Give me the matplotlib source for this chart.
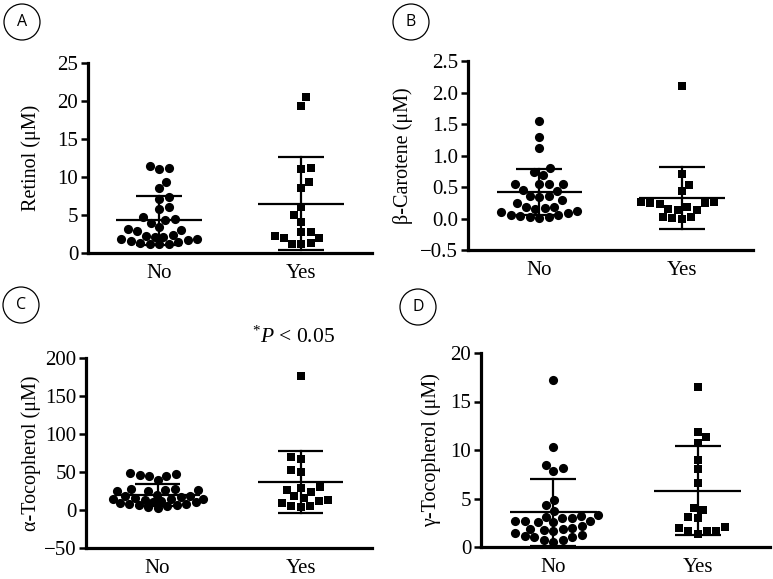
import numpy as np
import matplotlib
matplotlib.use("Agg")
import matplotlib.pyplot as plt
from matplotlib.patches import Ellipse

plt.rcParams['font.family'] = ['Liberation Serif', 'DejaVu Serif']
plt.rcParams['mathtext.fontset'] = 'custom'
plt.rcParams['mathtext.rm'] = 'Liberation Serif'
plt.rcParams['mathtext.it'] = 'Liberation Serif:italic'

# ---------------- data ----------------
groups = ["No", "Yes"]

retinol_no = [11.2, 11.1, 11.5, 9.4, 8.5, 7.4, 7.1, 6.0, 5.8, 4.8, 4.5, 4.4, 4.0,
              3.4, 3.0, 2.9, 3.1, 1.15, 1.2, 1.25, 1.35, 1.4, 1.55, 1.65, 1.8,
              1.9, 2.05, 2.15, 2.3, 2.4]
retinol_yes = [20.5, 19.4, 11.2, 11.0, 9.3, 8.55, 6.0, 4.95, 4.1, 2.7, 2.7, 2.0,
               1.3, 2.0, 2.2, 1.2, 1.2]

carotene_no = [1.54, 1.29, 1.12, 0.80, 0.74, 0.69, 0.55, 0.55, 0.55, 0.55, 0.46,
               0.43, 0.35, 0.35, 0.34, 0.29, 0.25, 0.19, 0.18, 0.17, 0.15, 0.12,
               0.10, 0.08, 0.06, 0.05, 0.04, 0.03, 0.02, 0.01]
carotene_yes = [2.10, 0.70, 0.53, 0.43, 0.26, 0.24, 0.25, 0.23, 0.26, 0.19, 0.15,
                0.14, 0.14, 0.02, 0.00, 0.01, 0.02]

atoc_no = [48, 45, 39, 45, 46, 49, 26, 27, 25, 26, 27, 25, 20, 19, 18, 17, 16, 15,
           14, 13, 12, 11, 10, 9, 8, 8, 7, 6, 5, 4, 3, 15]
atoc_yes = [175.7, 70.3, 66.8, 49.7, 52.7, 30.8, 26.4, 24.2, 29.4, 16.3, 11.9,
            5.7, 4.4, 5.7, 8.8, 13.2, 18.5]

gtoc_no = [17.2, 10.3, 8.5, 8.1, 7.8, 4.8, 4.3, 3.7, 3.3, 3.2, 3.1, 3.0, 3.0, 2.7,
           2.7, 2.7, 2.6, 2.6, 2.2, 2.0, 1.9, 1.9, 1.8, 1.6, 1.4, 1.2, 1.1, 1.0,
           1.0, 0.75, 0.7, 0.5]
gtoc_yes = [16.5, 11.9, 11.3, 10.7, 9.0, 8.0, 6.6, 4.0, 3.8, 3.1, 3.0, 2.1, 2.0,
            1.7, 1.7, 1.6, 1.3]

# mean and SD (No, Yes)
retinol_mean = [4.3, 6.5]
retinol_sd = [3.2, 6.1]
carotene_mean = [0.42, 0.33]
carotene_sd = [0.37, 0.49]
atoc_mean = [19.8, 36.7]
atoc_sd = [14.2, 41.2]
gtoc_mean = [3.6, 5.8]
gtoc_sd = [3.45, 4.6]

ylabels = ["Retinol (\u03bcM)", "\u03b2-Carotene (\u03bcM)",
           "\u03b1-Tocopherol (\u03bcM)", "\u03b3-Tocopherol (\u03bcM)"]
ylims = [(0, 25), (-0.5, 2.5), (-50, 200), (0, 20)]
yticks = [[0, 5, 10, 15, 20, 25],
          [-0.5, 0.0, 0.5, 1.0, 1.5, 2.0, 2.5],
          [-50, 0, 50, 100, 150, 200],
          [0, 5, 10, 15, 20]]
ytick_fmt = ["{:g}", "{:.1f}", "{:g}", "{:g}"]
panel_letters = ["A", "B", "C", "D"]

# ---------------- layout ----------------
W, H = 773, 579
fig = plt.figure(figsize=(W / 100, H / 100), dpi=100)

# left, right, top, bottom in pixels
boxes = [(88, 372, 63, 253), (468, 753, 61, 250), (86, 372, 358, 548), (481, 770, 353, 547)]
circles = [(22, 22), (411, 22), (21, 305), (418, 307)]
ylabel_x = [33, 405, 33, 433]
FS = 15


def swarm_offsets(values, px_per_y, d, maxw):
    """Beeswarm layout (pixels) limited to +-maxw; overlaps allowed when crowded."""
    vals = np.asarray(values, float)
    order = np.argsort(vals, kind="stable")
    ys = vals * px_per_y
    grid = np.arange(-maxw, maxw + 0.01, 0.5)
    px, py = [], []
    offs = np.zeros(len(vals))
    for n, i in enumerate(order):
        y = ys[i]
        if not px:
            x = 0.0
        else:
            PX = np.array(px)[None, :]
            PY = np.array(py)[None, :]
            dist = np.sqrt((grid[:, None] - PX) ** 2 + (y - PY) ** 2).min(axis=1)
            valid = dist >= d
            if valid.any():
                sgn = 1 if n % 2 == 0 else -1
                key = np.abs(grid) - 1e-3 * sgn * grid
                key = np.where(valid, key, np.inf)
                x = grid[np.argmin(key)]
            else:
                x = grid[np.argmax(dist - 1e-3 * np.abs(grid))]
        offs[i] = x
        px.append(x)
        py.append(y)
    return offs


datasets = [(retinol_no, retinol_yes, retinol_mean, retinol_sd),
            (carotene_no, carotene_yes, carotene_mean, carotene_sd),
            (atoc_no, atoc_yes, atoc_mean, atoc_sd),
            (gtoc_no, gtoc_yes, gtoc_mean, gtoc_sd)]

for k, (no, yes, means, sds) in enumerate(datasets):
    l, r, t, b = boxes[k]
    ax = fig.add_axes([l / W, 1 - b / H, (r - l) / W, (b - t) / H])
    xlim = (-0.5, 1.5)
    ax.set_xlim(*xlim)
    ax.set_ylim(*ylims[k])
    px_per_x = (r - l) / (xlim[1] - xlim[0])
    px_per_y = (b - t) / (ylims[k][1] - ylims[k][0])

    for gi, (vals, mk) in enumerate([(no, 'o'), (yes, 's')]):
        offs = swarm_offsets(vals, px_per_y, 9.5, 45.0)
        xs = gi + offs / px_per_x
        ax.plot(xs, vals, linestyle='none', marker=mk, markersize=6.6 if mk == 'o' else 6.3,
                color='black', markeredgewidth=0, clip_on=False, zorder=3)
        m, s = means[gi], sds[gi]
        ax.plot([gi - 0.30, gi + 0.30], [m, m], color='black', lw=1.6, zorder=4,
                solid_capstyle='butt')
        ax.plot([gi, gi], [m - s, m + s], color='black', lw=1.6, zorder=4)
        for yv in (m - s, m + s):
            ax.plot([gi - 0.16, gi + 0.16], [yv, yv], color='black', lw=1.6, zorder=4,
                    solid_capstyle='butt', clip_on=False)

    for sp in ['top', 'right']:
        ax.spines[sp].set_visible(False)
    for sp in ['left', 'bottom']:
        ax.spines[sp].set_linewidth(2.3)
    ax.set_xticks([0, 1])
    ax.set_xticklabels(groups, fontsize=FS)
    ax.tick_params(axis='x', length=0, pad=8)
    ax.set_yticks(yticks[k])
    ax.set_yticklabels([ytick_fmt[k].format(v).replace('-', '\u2212') for v in yticks[k]],
                       fontsize=FS)
    ax.tick_params(axis='y', length=5, width=1.8, pad=2)
    ax.set_ylabel(ylabels[k], fontsize=14.5)
    ax.yaxis.set_label_coords((ylabel_x[k] + 8 - l) / (r - l), 0.5)

    cx, cy = circles[k]
    fig.add_artist(Ellipse((cx / W, 1 - cy / H), 36 / W, 36 / H, transform=fig.transFigure,
                           fill=False, edgecolor='black', lw=0.9))
    fig.text(cx / W, 1 - cy / H, panel_letters[k], ha='center', va='center',
             fontsize=11.5, family=['Open Sans', 'DejaVu Sans'])

fig.text(293 / W, 1 - 337 / H, r"$^{*}\mathit{P}$ < 0.05", ha='center', va='center',
         fontsize=15.5)

fig.savefig("out.png", dpi=100)
